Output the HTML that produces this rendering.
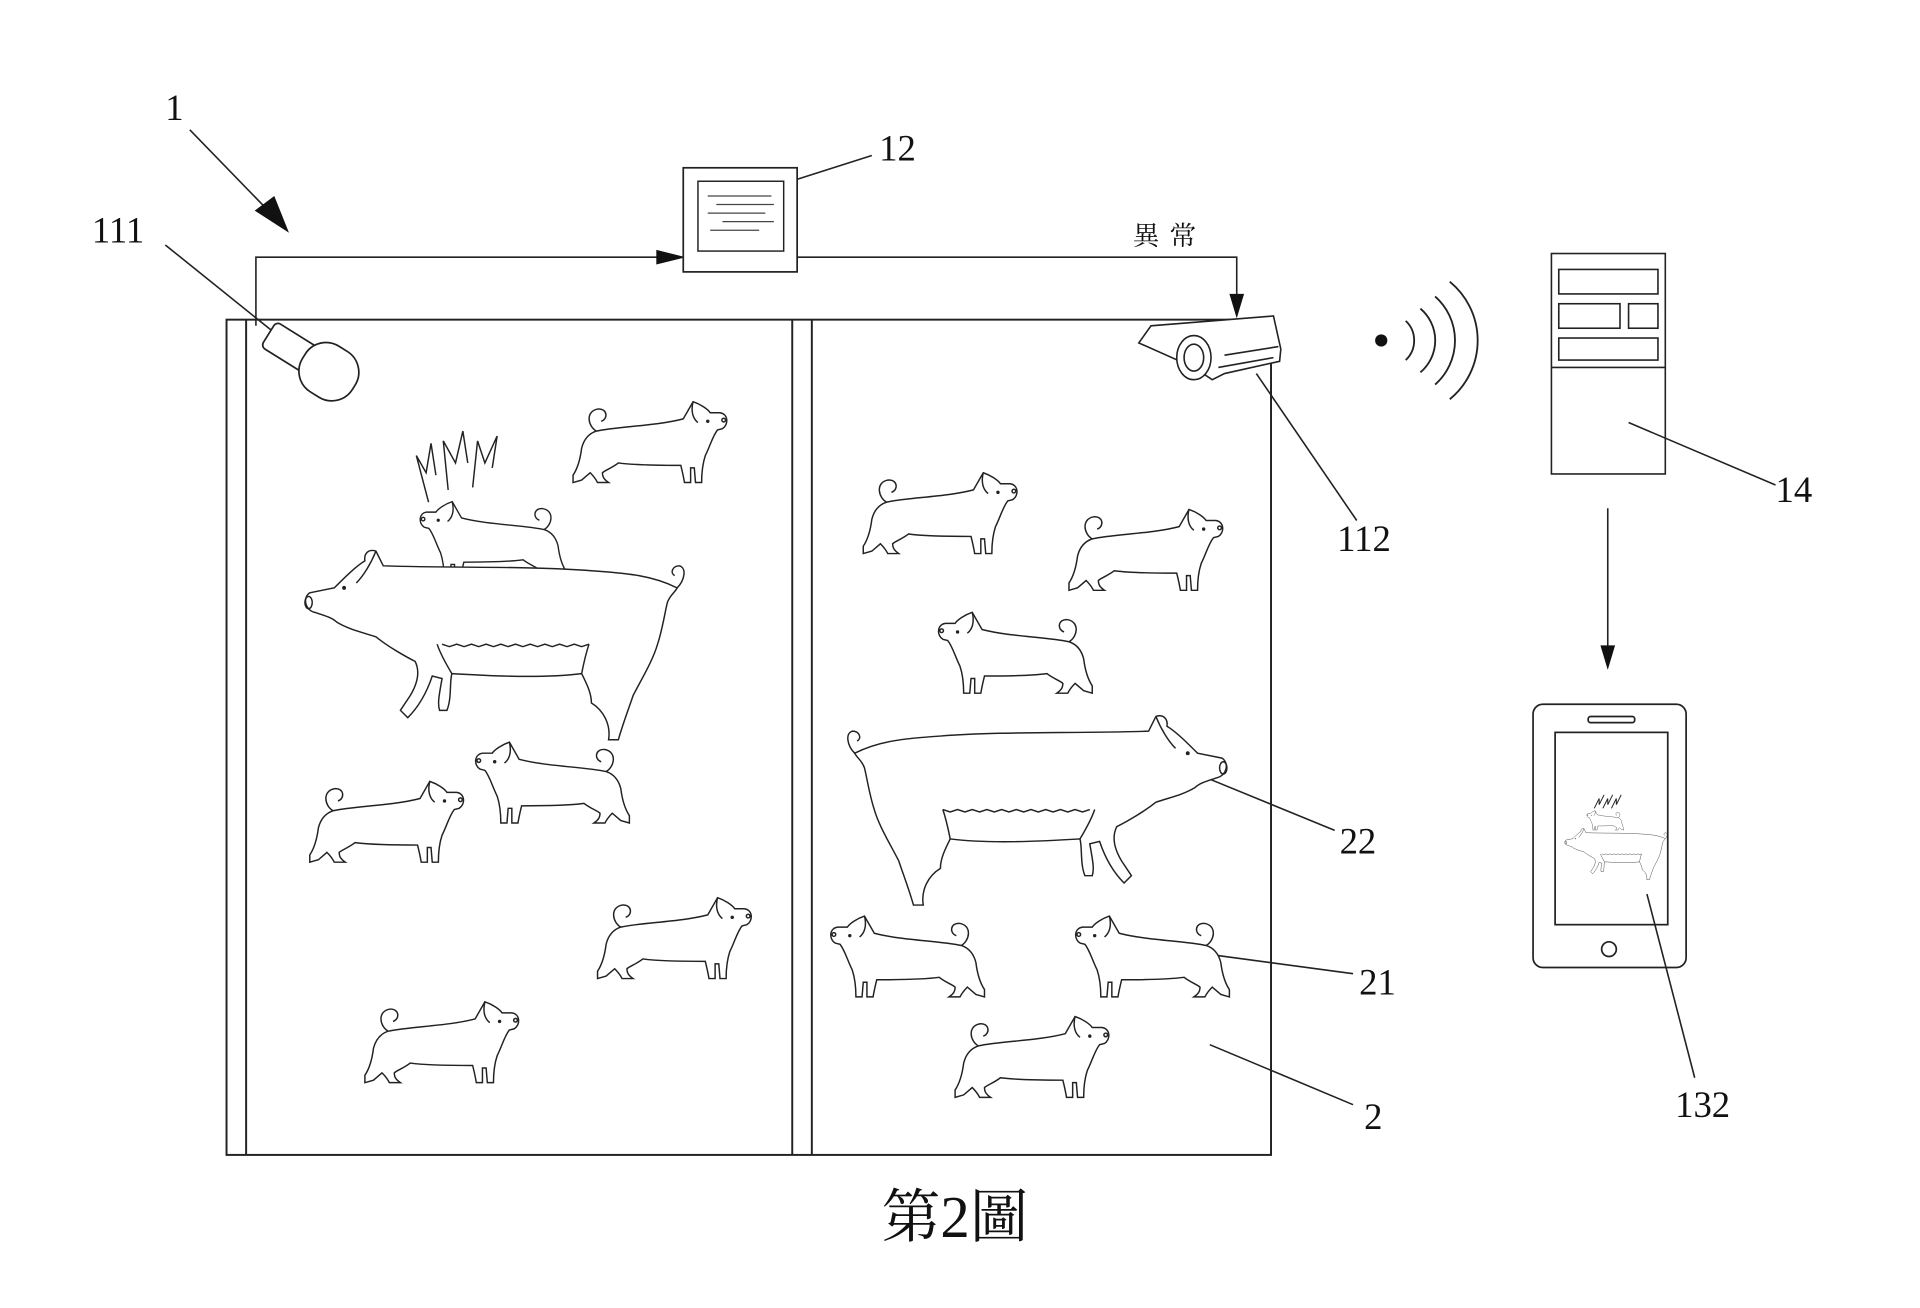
<!DOCTYPE html>
<html><head><meta charset="utf-8"><style>
html,body{margin:0;padding:0;background:#fff;}
svg{display:block}
text{font-family:"Liberation Serif","Noto Serif CJK SC",serif;fill:#111}
</style></head><body>
<svg width="1920" height="1308" viewBox="0 0 1568 1068" preserveAspectRatio="none" xmlns="http://www.w3.org/2000/svg">
<defs>
<g id="pig" fill="#fff" stroke="#222" stroke-width="1.2">
<path d="M27,32 C20,28 18,16 28,14 C36,13 37,22 31,24" fill="none"/>
<path d="M27,32 C45,28 75,28 98,22 L106,8 C112,10 118,14 120,17 L128,17 C135,18 135,27 130,30 L126,31 C122,36 120,44 116,52 C114,58 113,64 113,74 L108,74 L107,62 L104,62 L104,74 L99,74 C98,68 97,64 96,60 C80,60 60,60 45,58 C40,62 34,64 32,66 C32,70 34,72 37,74 L28,74 C26,70 24,68 22,66 L15,72 L8,74 L8,68 C12,62 14,54 15,46 C17,38 21,34 27,32 Z"/>
<path d="M106,8 C104,16 106,22 110,25" fill="none"/>
<circle cx="118" cy="24" r="0.8" fill="#222"/>
<circle cx="131" cy="23" r="1.5" fill="none"/>
</g>
<g id="sow" fill="#fff" stroke="#222" stroke-width="1.2">
<path d="M0,40 C20,30 40,28 70,26 C120,22 180,24 240,22 L246,10 C252,8 256,12 255,18 C262,22 272,32 280,40 L300,44 C306,48 304,58 296,60 C290,62 282,64 278,68 C268,74 258,76 246,80 C236,88 222,96 214,100 C210,108 212,118 218,128 L226,140 L220,146 C210,136 204,124 200,112 L192,114 C194,126 196,134 194,140 L188,140 C184,130 186,118 184,110 C150,112 110,114 78,110 C74,118 70,126 70,134 C60,140 54,152 56,164 L48,164 C44,150 40,140 36,128 C30,116 20,100 16,86 C12,74 10,60 8,52 C6,46 2,44 0,40 Z"/>
<path d="M78,110 C76,100 74,92 72,86 M184,110 C190,100 194,92 196,86" fill="none"/>
<path d="M72,86 l6,2 l6,-2 l6,2 l6,-2 l6,2 l6,-2 l6,2 l6,-2 l6,2 l6,-2 l6,2 l6,-2 l6,2 l6,-2 l6,2 l6,-2 l6,2 l6,-2 l6,2 l6,-2" fill="none"/>
<path d="M246,10 C250,20 256,30 262,36" fill="none"/>
<path d="M0,40 C-6,34 -8,24 -2,22 C4,22 6,28 2,30" fill="none"/>
<circle cx="272" cy="40" r="1" fill="#222"/>
<ellipse cx="301" cy="52" rx="3" ry="5" fill="none"/>
</g>
</defs>

<!-- pen -->
<g fill="none" stroke="#222" stroke-width="1.6">
<rect x="185" y="261" width="853" height="682"/>
<line x1="201" y1="261" x2="201" y2="943"/>
<line x1="647" y1="261" x2="647" y2="943"/>
<line x1="663" y1="261" x2="663" y2="943"/>
</g>

<!-- connectors -->
<g fill="none" stroke="#222" stroke-width="1.3">
<polyline points="209,266 209,210 548,210"/>
<polyline points="651,210 1010,210 1010,250"/>
<line x1="155" y1="106" x2="222" y2="175"/>
<line x1="1313" y1="415" x2="1313" y2="535"/>
<line x1="135" y1="200" x2="222" y2="270"/>
<line x1="646" y1="148" x2="712" y2="127"/>
<line x1="1026" y1="305" x2="1108" y2="425"/>
<line x1="1330" y1="345" x2="1450" y2="396"/>
<line x1="985" y1="635" x2="1090" y2="678"/>
<line x1="978" y1="778" x2="1105" y2="795"/>
<line x1="988" y1="853" x2="1105" y2="902"/>
<line x1="1345" y1="730" x2="1384" y2="880"/>
</g>
<g fill="#111">
<polygon points="560,210 536,204 536,216"/>
<polygon points="1010,260 1004,240 1016,240"/>
<polygon points="236,190 208,172 224,160"/>
<polygon points="1313,547 1307,527 1319,527"/>
</g>

<!-- box 12 -->
<rect x="558" y="137" width="93" height="85" fill="#fff" stroke="#222" stroke-width="1.4"/>
<rect x="570" y="148" width="70" height="57" fill="none" stroke="#222" stroke-width="1.2"/>
<g stroke="#444" stroke-width="1"><line x1="578" y1="160" x2="630" y2="160"/><line x1="585" y1="167" x2="632" y2="167"/><line x1="578" y1="174" x2="625" y2="174"/><line x1="590" y1="181" x2="632" y2="181"/><line x1="580" y1="188" x2="620" y2="188"/></g>

<!-- camera 111 -->
<g transform="translate(255,295) rotate(32)" fill="#fff" stroke="#222" stroke-width="1.4">
<rect x="-42" y="-12" width="42" height="24" rx="4"/>
<rect x="-8" y="-22" width="48" height="44" rx="20"/>
</g>
<!-- camera 112 -->
<g fill="#fff" stroke="#222" stroke-width="1.3">
<path d="M930,280 L940,266 L1040,258 L1046,285 L1045,295 L1000,305 L990,310 L975,300 Z"/>
<ellipse cx="975" cy="292" rx="14" ry="18"/>
<ellipse cx="975" cy="292" rx="8" ry="11"/>
<path d="M995,300 L1040,292 M1000,290 L1044,283"/>
</g>

<!-- wifi -->
<circle cx="1128" cy="278" r="5" fill="#111"/>
<g fill="none" stroke="#222" stroke-width="1.5">
<path d="M1148,262 A22,22 0 0 1 1148,294"/>
<path d="M1160,252 A34,34 0 0 1 1160,304"/>
<path d="M1172,242 A48,48 0 0 1 1172,314"/>
<path d="M1184,230 A62,62 0 0 1 1184,326"/>
</g>

<!-- device 14 -->
<g fill="none" stroke="#222" stroke-width="1.3">
<rect x="1267" y="207" width="93" height="180"/>
<line x1="1267" y1="300" x2="1360" y2="300"/>
<rect x="1273" y="220" width="81" height="20"/>
<rect x="1273" y="248" width="50" height="20"/>
<rect x="1330" y="248" width="24" height="20"/>
<rect x="1273" y="276" width="81" height="18"/>
</g>

<!-- phone -->
<g fill="none" stroke="#222" stroke-width="1.4">
<rect x="1252" y="575" width="125" height="215" rx="8"/>
<rect x="1270" y="598" width="92" height="157"/>
<rect x="1297" y="585" width="38" height="5" rx="2"/>
<circle cx="1314" cy="775" r="6"/>
</g>
<use href="#pig" transform="translate(1328,660) scale(-0.24,0.24)"/>
<use href="#sow" transform="translate(1360,674) scale(-0.27,0.27)"/>
<path d="M1302,660 l4,-8 l0,5 l4,-8 M1309,660 l4,-8 l0,5 l4,-8 M1316,660 l4,-8 l0,5 l4,-8" stroke="#222" fill="none" stroke-width="0.8"/>

<!-- left pen animals -->
<use href="#pig" transform="translate(470,402) scale(-0.95,0.95)"/>
<use href="#sow" transform="translate(553,440) scale(-1,1)"/>
<g fill="none" stroke="#222" stroke-width="1.2">
<path d="M350,410 L340,372 L348,386 L352,362 L356,388"/>
<path d="M366,400 L362,360 L372,378 L378,352 L382,378"/>
<path d="M386,398 L390,360 L396,378 L406,356 L402,382"/>
</g>
<use href="#pig" transform="translate(460,320)"/>
<use href="#pig" transform="translate(245,630)"/>
<use href="#pig" transform="translate(522,598) scale(-1,1)"/>
<use href="#pig" transform="translate(480,725)"/>
<use href="#pig" transform="translate(290,810)"/>

<!-- right pen animals -->
<use href="#pig" transform="translate(697,378)"/>
<use href="#pig" transform="translate(865,408)"/>
<use href="#pig" transform="translate(900,492) scale(-1,1)"/>
<use href="#sow" transform="translate(698,575)"/>
<use href="#pig" transform="translate(812,740) scale(-1,1)"/>
<use href="#pig" transform="translate(1012,740) scale(-1,1)"/>
<use href="#pig" transform="translate(772,822)"/>

<!-- labels -->
<g font-size="30">
<text x="135" y="98">1</text>
<text x="75" y="198">111</text>
<text x="718" y="131">12</text>
<text x="1092" y="450">112</text>
<text x="1450" y="410">14</text>
<text x="1094" y="697">22</text>
<text x="1110" y="812">21</text>
<text x="1114" y="922">2</text>
<text x="1368" y="912">132</text>
</g>
<text x="925" y="200" font-size="22" letter-spacing="8">異常</text>
<text x="720" y="1010" font-size="48">第2圖</text>
</svg>
</body></html>
